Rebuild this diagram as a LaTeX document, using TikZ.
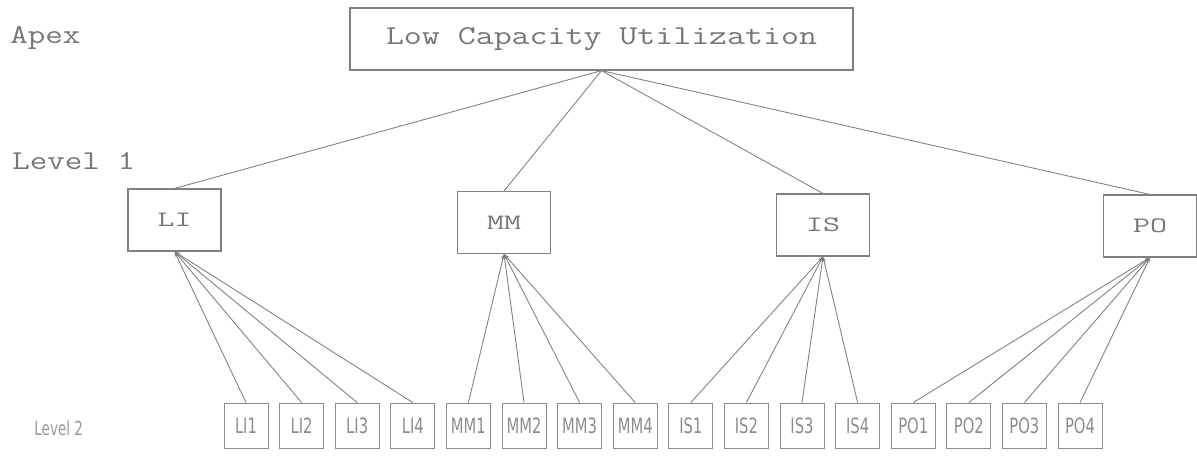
\documentclass[tikz,border=0pt]{standalone}
\usepackage{graphicx}
\usepackage{fontspec}
\newfontfamily\isofont{DejaVu Sans}
\usetikzlibrary{arrows.meta}

\definecolor{inkgray}{RGB}{118,118,118}
\definecolor{linegray}{RGB}{128,128,128}
\definecolor{leafgray}{RGB}{140,140,140}

\newcommand{\sx}[2]{\scalebox{#1}[1]{#2}}%横に伸ばす
\newcommand{\iso}[1]{\scalebox{0.7}[1]{\isofont #1}}%細い字

\tikzset{
  typed/.style={text=inkgray,inner sep=0pt,font=\ttfamily\fontsize{15.5}{18}\selectfont},
  apexbox/.style={typed,draw=linegray,line width=0.7pt,minimum width=100.6mm,minimum height=12.4mm},
  critbox/.style={draw=linegray,line width=0.6pt,text=inkgray,inner sep=0pt,
    minimum width=18.6mm,minimum height=12.4mm,font=\ttfamily\fontsize{12.5}{14}\selectfont},
  leafbox/.style={draw=leafgray,line width=0.5pt,text=leafgray,inner sep=0pt,
    minimum width=8.8mm,minimum height=9mm,font=\fontsize{12}{14}\selectfont},
  link/.style={draw=linegray,line width=0.5pt},
}

\begin{document}
\begin{tikzpicture}[x=0.2mm,y=0.2mm]
  \useasboundingbox (0,0) rectangle (1197,455);

  % 左の見出し
  \node[typed,anchor=west] (hapex) at (10,417) {\sx{1.25}{Apex}};
  \node[typed,anchor=west] (hone) at (12,294) {\sx{1.25}{Level 1}};
  \node[leafbox,draw=none,text=leafgray!90,anchor=west,font=\fontsize{11}{13}\selectfont]
    (htwo) at (34,27) {\iso{Level 2}};

  % 頂点
  \node[apexbox] (apex) at (601.5,416) {\sx{1.28}{Low Capacity Utilization}};

  % 第1層
  \node[critbox] (LI) at (174.5,235) {\sx{1.5}{LI}};
  \node[critbox] (MM) at (504,232.5) {\sx{1.5}{MM}};
  \node[critbox] (IS) at (823,230) {\sx{1.5}{IS}};
  \node[critbox] (PO) at (1150,229) {\sx{1.5}{PO}};

  % 第2層 16個
  \foreach \g [count=\i from 0] in {LI,MM,IS,PO}
    \foreach \k in {1,...,4}
      \node[leafbox] (\g\k) at ({246+55.6*(4*\i+\k-1)},29.5) {\iso{\g\k}};

  % 線
  \foreach \g in {LI,MM,IS,PO}{
    \draw[link] (\g.north) -- (apex.south);
    \foreach \k in {1,...,4}
      \draw[link,-{Stealth[length=3pt,width=2pt]}] (\g\k.north) -- (\g.south);
  }
\end{tikzpicture}
\end{document}
